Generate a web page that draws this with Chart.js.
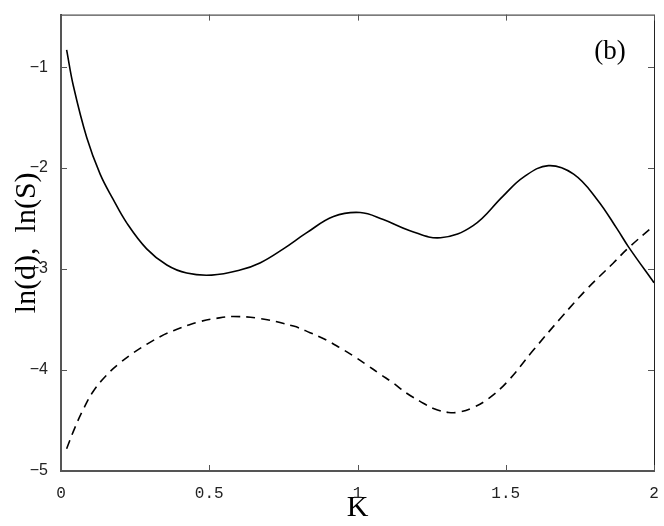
<!DOCTYPE html>
<html>
<head>
<meta charset="utf-8">
<script src="https://cdn.jsdelivr.net/npm/chart.js@4/dist/chart.umd.min.js"></script>
<style>
  html, body { margin: 0; padding: 0; background: #fff; }
  canvas { display: block; }
</style>
</head>
<body>
<canvas id="chart" width="664" height="526"></canvas>
<script>
// ---- data ----
const kSolid = [0.019, 0.042, 0.087, 0.132, 0.176, 0.221, 0.289, 0.357, 0.424, 0.508, 0.604, 0.671, 0.750, 0.829, 0.919, 1.009, 1.087, 1.177, 1.280, 1.390, 1.490, 1.560, 1.644, 1.729, 1.808, 1.875, 1.914, 2.000];
const lnD    = [-0.83, -1.19, -1.70, -2.06, -2.31, -2.54, -2.80, -2.96, -3.04, -3.06, -3.01, -2.94, -2.80, -2.64, -2.48, -2.44, -2.51, -2.62, -2.69, -2.57, -2.28, -2.09, -1.976, -2.06, -2.31, -2.60, -2.78, -3.135];

const kDashed = [0.019, 0.047, 0.075, 0.109, 0.154, 0.199, 0.244, 0.289, 0.334, 0.379, 0.430, 0.469, 0.520, 0.581, 0.671, 0.784, 0.840, 0.896, 0.941, 0.986, 1.032, 1.076, 1.121, 1.166, 1.211, 1.256, 1.307, 1.346, 1.391, 1.436, 1.504, 1.594, 1.684, 1.773, 1.863, 1.914, 2.000];
const lnS     = [-4.78, -4.57, -4.39, -4.21, -4.05, -3.93, -3.83, -3.745, -3.67, -3.61, -3.555, -3.52, -3.49, -3.47, -3.49, -3.565, -3.63, -3.705, -3.78, -3.86, -3.95, -4.04, -4.13, -4.23, -4.31, -4.38, -4.42, -4.415, -4.37, -4.295, -4.12, -3.80, -3.49, -3.20, -2.94, -2.79, -2.57];

const xTicks = [0, 0.5, 1, 1.5, 2];
const xTickLabels = ["0", "0.5", "1", "1.5", "2"];
const yTicks = [-5, -4, -3, -2, -1];
const yTickLabels = ["\u22125", "\u22124", "\u22123", "\u22122", "\u22121"];

const xTitle = "K";
const yTitle = "ln(d),  ln(S)";
const panelLabel = "(b)";

function pts(xs, ys){ return xs.map((x,i)=>({x, y: ys[i]})); }

// box on top/right + inward ticks on all four sides, panel label
const frame = {
  id: "frame",
  afterDraw(c){
    const {ctx, chartArea: a, scales: {x, y}} = c;
    ctx.save();
    ctx.strokeStyle = "#222";
    ctx.lineWidth = 1;
    ctx.beginPath();
    ctx.moveTo(a.left, a.top + 0.5); ctx.lineTo(a.right + 0.5, a.top + 0.5);
    ctx.lineTo(a.right + 0.5, a.bottom);
    ctx.stroke();

    const tl = 6;
    ctx.strokeStyle = "#555";
    ctx.beginPath();
    xTicks.forEach(v => {
      const px = Math.round(x.getPixelForValue(v)) + 0.5;
      ctx.moveTo(px, a.bottom); ctx.lineTo(px, a.bottom - tl);
      ctx.moveTo(px, a.top);    ctx.lineTo(px, a.top + tl);
    });
    yTicks.forEach(v => {
      const py = Math.round(y.getPixelForValue(v)) + 0.5;
      ctx.moveTo(a.left, py);  ctx.lineTo(a.left + tl, py);
      ctx.moveTo(a.right, py); ctx.lineTo(a.right - tl, py);
    });
    ctx.stroke();

    ctx.fillStyle = "#000";
    ctx.font = "27px 'Liberation Serif'";
    ctx.textAlign = "center";
    ctx.textBaseline = "middle";
    ctx.fillText(panelLabel, a.right - 44, a.top + 37);
    ctx.restore();
  }
};

new Chart(document.getElementById("chart").getContext("2d"), {
  type: "line",
  data: {
    datasets: [
      { label: "ln(d)", data: pts(kSolid, lnD), borderColor: "#000", borderWidth: 1.6,
        pointRadius: 0, tension: 0.4, fill: false },
      { label: "ln(S)", data: pts(kDashed, lnS), borderColor: "#000", borderWidth: 1.6,
        borderDash: [9, 6], pointRadius: 0, tension: 0.4, fill: false }
    ]
  },
  options: {
    responsive: false,
    animation: false,
    devicePixelRatio: 1,
    layout: { padding: { top: 4, right: 10, left: 0, bottom: 0 } },
    plugins: { legend: { display: false }, tooltip: { enabled: false } },
    scales: {
      x: {
        type: "linear", min: 0, max: 2,
        afterBuildTicks: s => { s.ticks = xTicks.map(v => ({value: v})); },
        afterFit: s => { s.height = 55; },
        grid: { display: false },
        border: { display: true, color: "#555", width: 2 },
        ticks: {
          color: "#222", padding: 5,
          font: { family: "'Liberation Mono'", size: 16 },
          callback: (v) => xTickLabels[xTicks.indexOf(v)] ?? ""
        },
        title: { display: true, text: xTitle, color: "#000",
                 font: { family: "'Liberation Serif'", size: 30 }, padding: { top: 0, bottom: 0 } }
      },
      y: {
        type: "linear", min: -5, max: -0.48,
        afterBuildTicks: s => { s.ticks = yTicks.map(v => ({value: v})); },
        afterFit: s => { s.width = 61; },
        grid: { display: false },
        border: { display: true, color: "#555", width: 2 },
        ticks: {
          color: "#222", padding: 5,
          font: { family: "'Liberation Sans'", size: 16 },
          callback: (v) => yTickLabels[yTicks.indexOf(v)] ?? ""
        },
        title: { display: true, text: yTitle, color: "#000",
                 font: { family: "'Liberation Serif'", size: 30 }, padding: { top: 9, bottom: 0 } }
      }
    }
  },
  plugins: [frame]
});
</script>
</body>
</html>
